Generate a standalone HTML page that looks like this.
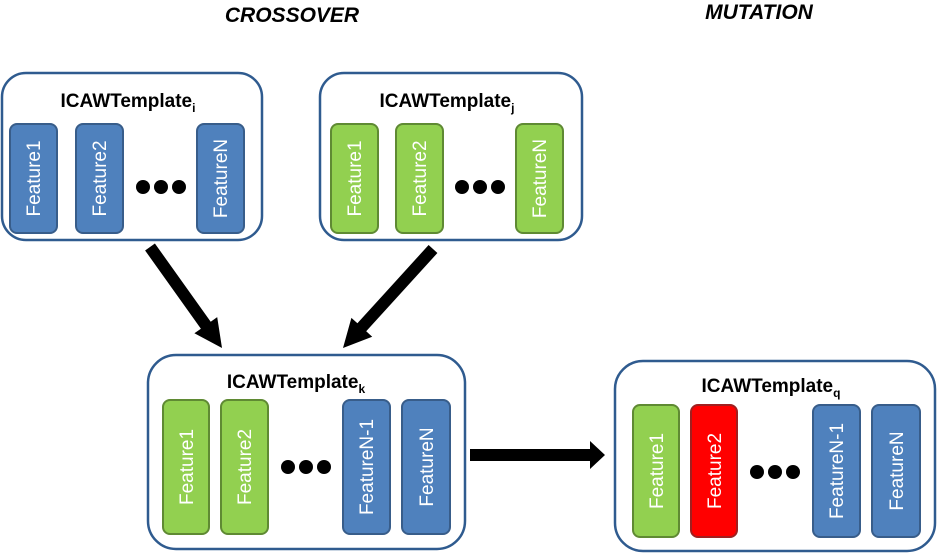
<!DOCTYPE html>
<html><head><meta charset="utf-8"><style>
html,body{margin:0;padding:0;background:#fff;}
svg{display:block;}
text{font-family:"Liberation Sans",sans-serif;}
</style></head><body>
<svg width="939" height="557" viewBox="0 0 939 557">
<text x="292" y="22" font-size="21" font-weight="bold" font-style="italic" text-anchor="middle">CROSSOVER</text>
<text x="759" y="19" font-size="21" font-weight="bold" font-style="italic" text-anchor="middle">MUTATION</text>

<g fill="#fff" stroke="#2f5b8f" stroke-width="2.5">
<rect x="2" y="73" width="260" height="167" rx="24"/>
<rect x="320" y="73" width="262" height="167" rx="24"/>
<rect x="148" y="355" width="317" height="194" rx="28"/>
<rect x="615" y="361" width="320" height="190" rx="28"/>
</g>
<g font-size="19" font-weight="bold" text-anchor="middle">
<text x="128" y="107">ICAWTemplate<tspan font-size="12" dy="5">i</tspan></text>
<text x="447" y="107">ICAWTemplate<tspan font-size="12" dy="5">j</tspan></text>
<text x="296" y="388">ICAWTemplate<tspan font-size="12" dy="5">k</tspan></text>
<text x="771" y="392">ICAWTemplate<tspan font-size="12" dy="5">q</tspan></text>
</g>

<g stroke-width="2">
<rect x="10" y="124" width="47" height="109" rx="7" fill="#4f81bd" stroke="#385d8a"/>
<rect x="76" y="124" width="47" height="109" rx="7" fill="#4f81bd" stroke="#385d8a"/>
<rect x="197" y="124" width="47" height="109" rx="7" fill="#4f81bd" stroke="#385d8a"/>
<rect x="331" y="124" width="47" height="109" rx="7" fill="#92d050" stroke="#5f8a33"/>
<rect x="396" y="124" width="47" height="109" rx="7" fill="#92d050" stroke="#5f8a33"/>
<rect x="516" y="124" width="47" height="109" rx="7" fill="#92d050" stroke="#5f8a33"/>
<rect x="163" y="400" width="46" height="134" rx="7" fill="#92d050" stroke="#5f8a33"/>
<rect x="221" y="400" width="47" height="134" rx="7" fill="#92d050" stroke="#5f8a33"/>
<rect x="343" y="400" width="47" height="134" rx="7" fill="#4f81bd" stroke="#385d8a"/>
<rect x="402" y="400" width="48" height="134" rx="7" fill="#4f81bd" stroke="#385d8a"/>
<rect x="633" y="405" width="46" height="132" rx="7" fill="#92d050" stroke="#5f8a33"/>
<rect x="691" y="405" width="46" height="132" rx="7" fill="#ff0000" stroke="#a02020"/>
<rect x="813" y="405" width="47" height="132" rx="7" fill="#4f81bd" stroke="#385d8a"/>
<rect x="872" y="405" width="48" height="132" rx="7" fill="#4f81bd" stroke="#385d8a"/>
</g>

<g fill="#fff" font-size="19" text-anchor="middle">
<text transform="translate(40,178.5) rotate(-90)">Feature1</text>
<text transform="translate(106,178.5) rotate(-90)">Feature2</text>
<text transform="translate(227,178.5) rotate(-90)">FeatureN</text>
<text transform="translate(361,178.5) rotate(-90)">Feature1</text>
<text transform="translate(426,178.5) rotate(-90)">Feature2</text>
<text transform="translate(546,178.5) rotate(-90)">FeatureN</text>
<text transform="translate(193,467) rotate(-90)">Feature1</text>
<text transform="translate(251,467) rotate(-90)">Feature2</text>
<text transform="translate(373,467) rotate(-90)">FeatureN-1</text>
<text transform="translate(433,467) rotate(-90)">FeatureN</text>
<text transform="translate(663,471) rotate(-90)">Feature1</text>
<text transform="translate(721,471) rotate(-90)">Feature2</text>
<text transform="translate(843,471) rotate(-90)">FeatureN-1</text>
<text transform="translate(903,471) rotate(-90)">FeatureN</text>
</g>

<g fill="#000">
<circle cx="143" cy="187" r="7"/><circle cx="161" cy="187" r="7"/><circle cx="179" cy="187" r="7"/>
<circle cx="462" cy="187" r="7"/><circle cx="480" cy="187" r="7"/><circle cx="498" cy="187" r="7"/>
<circle cx="288" cy="467" r="7"/><circle cx="306" cy="467" r="7"/><circle cx="324" cy="467" r="7"/>
<circle cx="757" cy="472" r="7"/><circle cx="775" cy="472" r="7"/><circle cx="793" cy="472" r="7"/>
<polygon points="154.9,243.5 210.7,321.7 217.2,317.1 222,348 194.4,333.3 200.9,328.7 145.1,250.5"/>
<polygon points="428.6,245 357.4,323.3 351.4,317.9 343,348 372.2,336.7 366.2,331.3 437.4,253"/>
<polygon points="470,449 590,449 590,441 605,455 590,469 590,461 470,461"/>
</g>
</svg>
</body></html>
